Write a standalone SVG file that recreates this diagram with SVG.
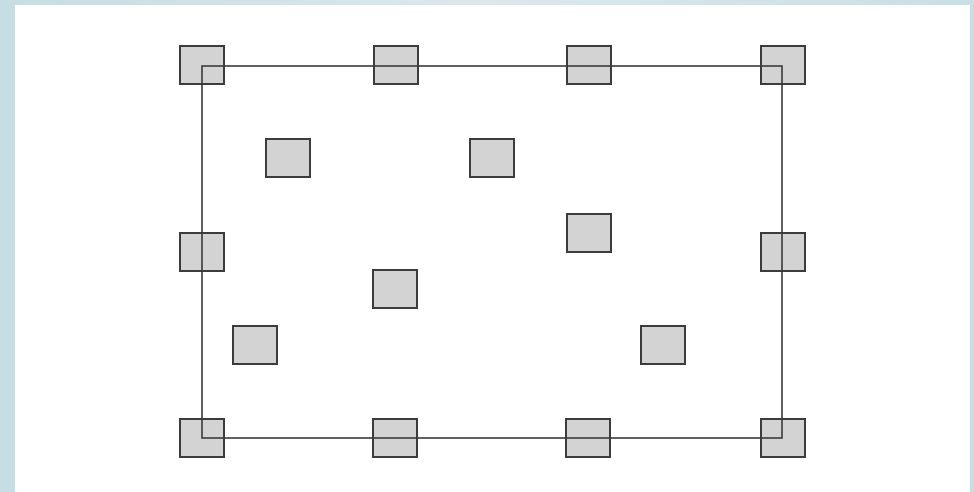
<svg xmlns="http://www.w3.org/2000/svg" width="974" height="492" viewBox="0 0 974 492">
<defs>
<linearGradient id="bg" x1="0" y1="0" x2="1" y2="0">
<stop offset="0" stop-color="#c6dde4"/>
<stop offset="0.5" stop-color="#dbe8ec"/>
<stop offset="1" stop-color="#c9dfe6"/>
</linearGradient>
</defs>
<style>
.sq{fill:#d3d3d3;stroke:#3c3c3c;stroke-width:2}
.ln{fill:none;stroke:#3a3a3a;stroke-width:1.6}
</style>
<rect x="0" y="0" width="974" height="492" fill="url(#bg)"/>
<rect x="15" y="5" width="955" height="487" fill="#ffffff"/>
<g id="nodes">
<g id="n1"><rect class="sq" x="180" y="46" width="44" height="38"/></g>
<g id="n2"><rect class="sq" x="374" y="46" width="44" height="38"/></g>
<g id="n3"><rect class="sq" x="567" y="46" width="44" height="38"/></g>
<g id="n4"><rect class="sq" x="761" y="46" width="44" height="38"/></g>
<g id="n5"><rect class="sq" x="266" y="139" width="44" height="38"/></g>
<g id="n6"><rect class="sq" x="470" y="139" width="44" height="38"/></g>
<g id="n7"><rect class="sq" x="567" y="214" width="44" height="38"/></g>
<g id="n8"><rect class="sq" x="180" y="233" width="44" height="38"/></g>
<g id="n9"><rect class="sq" x="761" y="233" width="44" height="38"/></g>
<g id="n10"><rect class="sq" x="373" y="270" width="44" height="38"/></g>
<g id="n11"><rect class="sq" x="233" y="326" width="44" height="38"/></g>
<g id="n12"><rect class="sq" x="641" y="326" width="44" height="38"/></g>
<g id="n13"><rect class="sq" x="180" y="419" width="44" height="38"/></g>
<g id="n14"><rect class="sq" x="373" y="419" width="44" height="38"/></g>
<g id="n15"><rect class="sq" x="566" y="419" width="44" height="38"/></g>
<g id="n16"><rect class="sq" x="761" y="419" width="44" height="38"/></g>
</g>
<g id="connectors">
<rect class="ln" x="202" y="66" width="580" height="372"/>
</g>
</svg>
